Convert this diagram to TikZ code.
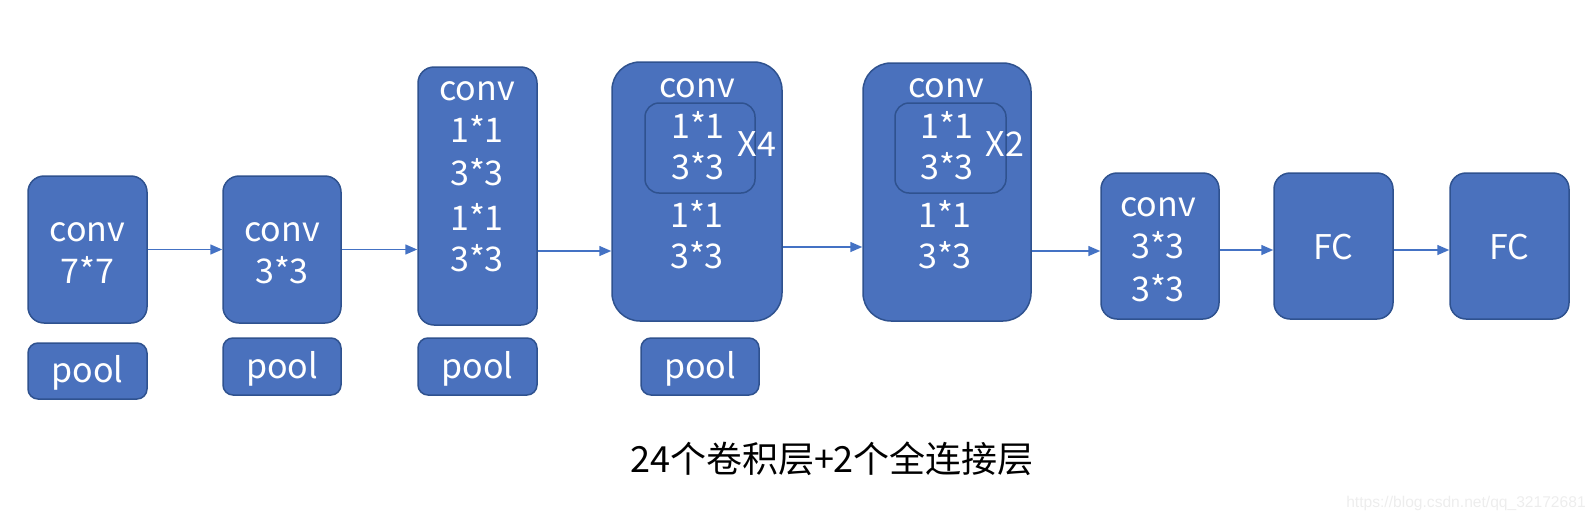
\documentclass[tikz,border=0pt]{standalone}
\usepackage{fontspec}
\setmainfont{Noto Sans CJK SC}
\newfontfamily\wmfont{Liberation Sans}
\usetikzlibrary{arrows.meta}
\definecolor{boxfill}{HTML}{4A71BD}
\definecolor{boxline}{HTML}{2F528F}
\definecolor{arrowc}{HTML}{4472C4}
\definecolor{wmgray}{HTML}{EDEDED}
\tikzset{
  box/.style={draw=boxline, fill=boxfill, line width=0.75pt, rounded corners=8pt, inner sep=0pt},
  bigbox/.style={box, rounded corners=14pt},
  poolbox/.style={box, rounded corners=5pt},
  innerbox/.style={draw=boxline, line width=0.75pt, rounded corners=7pt, inner sep=0pt},
  lbl/.style={text=white, font=\fontsize{17}{20}\selectfont, anchor=base, inner sep=0pt},
  arr/.style={draw=arrowc, line width=0.75pt, -{Triangle[length=6pt,width=5pt]}},
}
\begin{document}
\begin{tikzpicture}[x=0.5pt,y=-0.5pt]
\useasboundingbox (0,0) rectangle (1596,520);
% boxes
\node[box, minimum width=59.5pt, minimum height=73.5pt] (b1) at (87.5,249.5) {};
\node[box, minimum width=59pt, minimum height=73.5pt] (b2) at (282,249.5) {};
\node[box, minimum width=59.5pt, minimum height=129pt] (b3) at (477.5,196) {};
\node[bigbox, minimum width=85pt, minimum height=129.5pt] (b4) at (697,191.5) {};
\node[bigbox, minimum width=84pt, minimum height=129pt] (b5) at (947,192) {};
\node[box, minimum width=59pt, minimum height=73pt] (b6) at (1160,246) {};
\node[box, minimum width=59.5pt, minimum height=73pt] (f1) at (1333.5,246) {};
\node[box, minimum width=59.5pt, minimum height=73pt] (f2) at (1509.5,246) {};
% inner boxes
\node[innerbox, minimum width=55pt, minimum height=45pt] (i4) at (700,148) {};
\node[innerbox, minimum width=55.5pt, minimum height=45pt] (i5) at (950.5,148) {};
% pools
\node[poolbox, minimum width=59.5pt, minimum height=28pt] (p1) at (87.5,371) {};
\node[poolbox, minimum width=59pt, minimum height=28.5pt] (p2) at (282,366.5) {};
\node[poolbox, minimum width=59.5pt, minimum height=28.5pt] (p3) at (477.5,366.5) {};
\node[poolbox, minimum width=59pt, minimum height=28.5pt] (p4) at (700,366.5) {};
% labels
\node[lbl] (t1a) at (87.5,241) {conv};
\node[lbl] (t1b) at (87.5,283) {7*7};
\node[lbl] (t2a) at (282,241) {conv};
\node[lbl] (t2b) at (282,283) {3*3};
\node[lbl] (t3a) at (477,100) {conv};
\node[lbl] (t3b) at (477,142) {1*1};
\node[lbl] (t3c) at (477,185) {3*3};
\node[lbl] (t3d) at (477,230) {1*1};
\node[lbl] (t3e) at (477,271) {3*3};
\node[lbl] (t4a) at (697,97) {conv};
\node[lbl] (t4b) at (698,138) {1*1};
\node[lbl] (t4c) at (698,179) {3*3};
\node[lbl] (t4x) at (757,156) {X4};
\node[lbl] (t4d) at (697,227) {1*1};
\node[lbl] (t4e) at (697,268) {3*3};
\node[lbl] (t5a) at (946,97) {conv};
\node[lbl] (t5b) at (947,138) {1*1};
\node[lbl] (t5c) at (947,179) {3*3};
\node[lbl] (t5x) at (1005,156) {X2};
\node[lbl] (t5d) at (945,227) {1*1};
\node[lbl] (t5e) at (945,268) {3*3};
\node[lbl] (t6a) at (1158,216) {conv};
\node[lbl] (t6b) at (1158,258) {3*3};
\node[lbl] (t6c) at (1158,301) {3*3};
\node[lbl] (tf1) at (1333.5,259) {FC};
\node[lbl] (tf2) at (1509.5,259) {FC};
\node[lbl] (tp1) at (87.5,382) {pool};
\node[lbl] (tp2) at (282,378) {pool};
\node[lbl] (tp3) at (477.5,378) {pool};
\node[lbl] (tp4) at (700,378) {pool};
% caption
\node[lbl, text=black, font=\fontsize{18}{21}\selectfont] (cap) at (832,472) {24个卷积层+2个全连接层};
\node[anchor=base, inner sep=0pt, text=wmgray, font=\wmfont\fontsize{7.8}{9}\selectfont] (wm) at (1466,507) {https://blog.csdn.net/qq\_32172681};
% arrow rows
\coordinate (r1) at (0,249.5);
\coordinate (r3) at (0,251);
\coordinate (r4) at (0,247);
\coordinate (r5) at (0,251);
\coordinate (r6) at (0,250);
\draw[arr] (b1.east |- r1) -- (b2.west |- r1);
\draw[arr] (b2.east |- r1) -- (b3.west |- r1);
\draw[arr] (b3.east |- r3) -- (b4.west |- r3);
\draw[arr] (b4.east |- r4) -- (b5.west |- r4);
\draw[arr] (b5.east |- r5) -- (b6.west |- r5);
\draw[arr] (b6.east |- r6) -- (f1.west |- r6);
\draw[arr] (f1.east |- r6) -- (f2.west |- r6);
\end{tikzpicture}
\end{document}
